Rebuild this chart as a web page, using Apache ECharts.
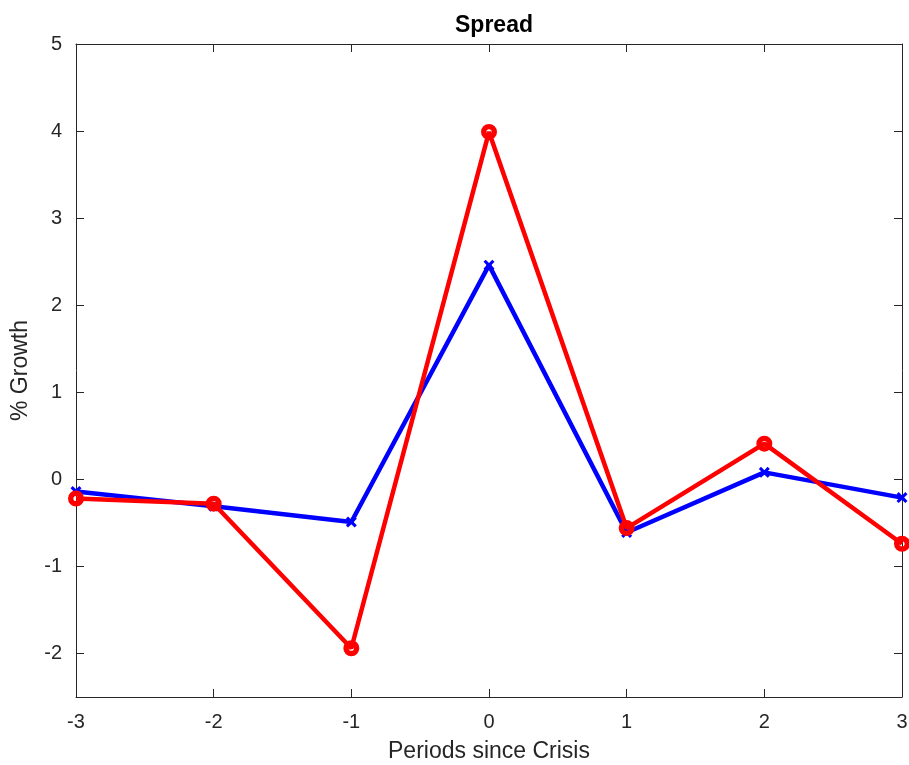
<!DOCTYPE html>
<html><head><meta charset="utf-8">
<script src="https://cdn.jsdelivr.net/npm/echarts@6/dist/echarts.min.js"></script>
<style>html,body{margin:0;padding:0;background:#fff}#c{width:909px;height:765px}</style>
</head><body><div id="c"></div>
<script>
const periods = [-3, -2, -1, 0, 1, 2, 3];
const blueSeries = [-0.14, -0.31, -0.49, 2.46, -0.61, 0.08, -0.21];
const redSeries = [-0.22, -0.28, -1.94, 3.99, -0.56, 0.41, -0.74];
const yTicks = [-2, -1, 0, 1, 2, 3, 4, 5];

const font = 'Liberation Sans, Helvetica, Arial, sans-serif';
const axisCol = '#262626';
const chart = echarts.init(document.getElementById('c'));
const pairs = arr => periods.map((p, i) => [p, arr[i]]);
const xMark = 'path://M0,2 L2,0 L5,3 L8,0 L10,2 L7,5 L10,8 L8,10 L5,7 L2,10 L0,8 L3,5 Z';
const ring = 'path://M0,8 A8,8 0 1,1 16,8 A8,8 0 1,1 0,8 Z M10.6,8 A2.6,2.6 0 1,0 5.4,8 A2.6,2.6 0 1,0 10.6,8 Z';
const line = {show: true, onZero: false, lineStyle: {color: axisCol, width: 1}};
const tick = {show: true, inside: true, length: 8, lineStyle: {color: axisCol}};
chart.setOption({
  animation: false,
  title: {text: 'Spread', left: 489, top: 9, textAlign: 'center',
    textStyle: {fontFamily: font, fontWeight: 'bold', fontSize: 23, color: '#000'}},
  grid: {left: 76, right: 7, top: 44, bottom: 68, containLabel: false, outerBoundsMode: 'none'},
  xAxis: [
    {type: 'value', min: -3, max: 3, interval: 1, position: 'bottom',
      axisLine: line, axisTick: tick, splitLine: {show: false},
      name: 'Periods since Crisis', nameLocation: 'middle', nameGap: 43,
      nameTextStyle: {fontFamily: font, fontSize: 23, color: axisCol},
      axisLabel: {fontFamily: font, fontSize: 20, color: axisCol, margin: 15}},
    {type: 'value', min: -3, max: 3, interval: 1, position: 'top',
      axisLine: line, axisTick: tick, splitLine: {show: false}, axisLabel: {show: false}}
  ],
  yAxis: [
    {type: 'value', min: -2.5, max: 5, interval: 0.5, position: 'left',
      axisLine: line, splitLine: {show: false},
      axisTick: Object.assign({customValues: yTicks}, tick),
      name: '% Growth', nameLocation: 'middle', nameGap: 44,
      nameTextStyle: {fontFamily: font, fontSize: 23, color: axisCol},
      axisLabel: {fontFamily: font, fontSize: 20, color: axisCol, margin: 14, customValues: yTicks}},
    {type: 'value', min: -2.5, max: 5, interval: 0.5, position: 'right',
      axisLine: line, splitLine: {show: false},
      axisTick: Object.assign({customValues: yTicks}, tick), axisLabel: {show: false}}
  ],
  series: [
    {type: 'line', data: pairs(blueSeries), symbol: xMark, symbolSize: 11,
      lineStyle: {color: '#0000ff', width: 4.5}, itemStyle: {color: '#0000ff'}, z: 2},
    {type: 'line', data: pairs(redSeries), symbol: ring, symbolSize: 16, symbolKeepAspect: true,
      lineStyle: {color: '#ff0000', width: 4.5},
      itemStyle: {color: '#ff0000', borderWidth: 0}, z: 3}
  ]
});
</script></body></html>
